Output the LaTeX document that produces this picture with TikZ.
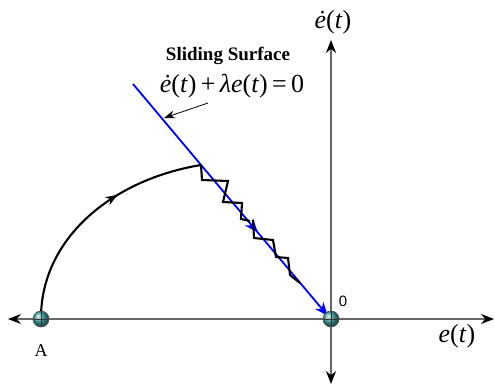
\documentclass[tikz,border=0pt]{standalone}
\usepackage{fontspec}
\setmainfont{Liberation Serif}
\newfontfamily\sansf{Liberation Sans}
\usetikzlibrary{arrows.meta,decorations.markings}
\begin{document}
\begin{tikzpicture}[x=1pt,y=-1pt,
  axis/.style={draw=black!60,line width=1.2pt,arrows={Stealth[length=13pt,width=10pt,black]-Stealth[length=13pt,width=10pt,black]}},
  ball/.style={circle,minimum size=16pt,inner sep=0pt,draw=black!70,line width=0.6pt,ball color={rgb,255:red,70;green,165;blue,165},path picture={\draw[black!80,line width=0.6pt] (path picture bounding box.north) -- (path picture bounding box.south) (path picture bounding box.west) -- (path picture bounding box.east);}},
  traj/.style={draw=black,line width=2.1pt},
  surf/.style={draw=blue,line width=1.8pt},
  mathlbl/.style={font=\fontsize{26}{28}\selectfont,inner sep=1pt}]
\useasboundingbox (0,0) rectangle (495,386);
\coordinate (xl) at (8,319);
\coordinate (xr) at (494,319);
\coordinate (yt) at (331,40);
\coordinate (yb) at (331,384);
\draw[axis] (xl) -- (xr);
\draw[axis] (yb) -- (yt);
\coordinate (s0) at (133,84);
\coordinate (s1) at (328,316);
\draw[surf,-{Stealth[length=14pt,width=11pt]},
  postaction={decorate,decoration={markings,mark=at position 0.64 with {\arrow{Stealth[length=14pt,width=11pt,blue]}}}}] (s0) -- (s1);
\coordinate (c0) at (41,318);
\coordinate (c1) at (201,165);
\draw[traj,postaction={decorate,decoration={markings,mark=at position 0.63 with {\arrow{Stealth[length=12pt,width=9pt]}}}}]
  (c0) .. controls (41,240) and (110,180) .. (c1);
\draw[traj,line join=miter] (c1) -- (202,180) -- (228,181) -- (223,202) -- (242,203) -- (241,219) -- (250,221);
\draw[traj,line join=miter] (253,220) -- (254,238) -- (273,240) -- (276,257) -- (288,258) -- (290,275) -- (300,283);
\node[ball] (A) at (41,319) {};
\node[ball] (O) at (331,319) {};
\node[font=\fontsize{18}{20}\selectfont] (Al) at (41,351) {A};
\node[font=\sansf\fontsize{15}{17}\selectfont] (Ol) at (343,301) {0};
\node[mathlbl] (yl) at (333,22) {\textit{ė}(\textit{t})};
\node[mathlbl] (xlab) at (457,336) {\textit{e}(\textit{t})};
\node[font=\bfseries\fontsize{19}{21}\selectfont] (ss) at (228,56) {Sliding Surface};
\node[mathlbl] (eq) at (232,86) {\textit{ė}(\textit{t})\,+\,\textit{λe}(\textit{t})\,=\,0};
\coordinate (a0) at (208,103);
\coordinate (a1) at (164,118);
\draw[line width=0.8pt,-{Stealth[length=11pt,width=8pt]}] (a0) -- (a1);
\end{tikzpicture}
\end{document}
